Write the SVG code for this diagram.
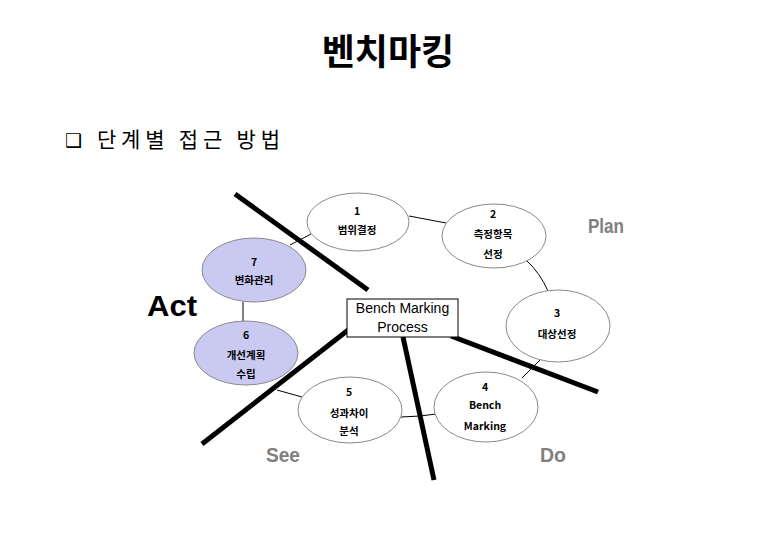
<svg xmlns="http://www.w3.org/2000/svg" width="780" height="540" viewBox="0 0 780 540">
<style>
.node{fill:#ffffff;stroke:#8a8a8a;stroke-width:1}
.node.act{fill:#c9c9f2}
.lbl{font-family:"Noto Sans CJK KR","Liberation Sans",sans-serif;font-weight:bold;font-size:10.5px;fill:#000;text-anchor:middle}
.conn{stroke:#000;stroke-width:1;fill:none}
.sep{stroke:#000;stroke-width:5;stroke-linecap:butt}
.phase{font-family:"Liberation Sans",Arial,sans-serif;font-weight:bold;font-size:20px;fill:#808080}
</style>
<rect width="780" height="540" fill="#fff"/>
<text x="388" y="65" font-family="'Noto Sans CJK KR',sans-serif" font-weight="bold" font-size="36" text-anchor="middle">벤치마킹</text>
<text x="65" y="147" font-family="'DejaVu Sans',sans-serif" font-size="19">❑</text>
<text x="97" y="147" font-family="'Noto Sans CJK KR',sans-serif" font-size="21" textLength="183" lengthAdjust="spacing">단계별 접근 방법</text>

<g id="connectors">
<path class="conn" d="M409,216 L446,223"/>
<path class="conn" d="M527,261 Q540,273 548,291"/>
<path class="conn" d="M540,360 L522,378"/>
<path class="conn" d="M401,417 L420,416 L436,414"/>
<path class="conn" d="M277,390 L302,397"/>
<path class="conn" d="M243,302 L243,322"/>
<path class="conn" d="M290,245 L311,234"/>
<line class="sep" x1="235" y1="194" x2="368" y2="290"/>
<line class="sep" x1="352" y1="327" x2="202" y2="444"/>
<line class="sep" x1="403" y1="337" x2="434" y2="480"/>
<line class="sep" x1="451" y1="336" x2="598" y2="392"/>
</g>

<g id="n1"><ellipse class="node" cx="358" cy="222" rx="51" ry="29"/>
<text class="lbl" x="357" y="215">1</text><text class="lbl" x="357" y="234">범위결정</text></g>
<g id="n2"><ellipse class="node" cx="494" cy="236" rx="52" ry="32"/>
<text class="lbl" x="493" y="218">2</text><text class="lbl" x="493" y="238">측정항목</text><text class="lbl" x="493" y="258">선정</text></g>
<g id="n3"><ellipse class="node" cx="558" cy="326" rx="52" ry="36"/>
<text class="lbl" x="557" y="317">3</text><text class="lbl" x="557" y="338">대상선정</text></g>
<g id="n4"><ellipse class="node" cx="486" cy="407" rx="52" ry="35"/>
<text class="lbl" x="485" y="391">4</text><text class="lbl" x="485" y="409">Bench</text><text class="lbl" x="485" y="430">Marking</text></g>
<g id="n5"><ellipse class="node" cx="350" cy="410" rx="52" ry="33"/>
<text class="lbl" x="349" y="396">5</text><text class="lbl" x="349" y="417">성과차이</text><text class="lbl" x="349" y="435">분석</text></g>
<g id="n6"><ellipse class="node act" cx="246" cy="353" rx="52" ry="32"/>
<text class="lbl" x="246" y="339">6</text><text class="lbl" x="246" y="359">개선계획</text><text class="lbl" x="246" y="378">수립</text></g>
<g id="n7"><ellipse class="node act" cx="254" cy="270" rx="52" ry="32"/>
<text class="lbl" x="254" y="266">7</text><text class="lbl" x="254" y="284">변화관리</text></g>
<g id="center"><rect x="347" y="299" width="111" height="38" fill="#fff" stroke="#000" stroke-width="1"/>
<text x="402.5" y="313" font-family="'Liberation Sans',Arial,sans-serif" font-size="14" text-anchor="middle">Bench Marking</text>
<text x="402.5" y="332" font-family="'Liberation Sans',Arial,sans-serif" font-size="14" text-anchor="middle">Process</text></g>

<text class="phase" x="588" y="233" textLength="36" lengthAdjust="spacingAndGlyphs">Plan</text>
<text x="147" y="316" font-family="'Liberation Sans',Arial,sans-serif" font-weight="bold" font-size="30" textLength="50" lengthAdjust="spacingAndGlyphs">Act</text>
<text class="phase" x="266" y="462" textLength="34" lengthAdjust="spacingAndGlyphs">See</text>
<text class="phase" x="540" y="462" textLength="26" lengthAdjust="spacingAndGlyphs">Do</text>
</svg>
